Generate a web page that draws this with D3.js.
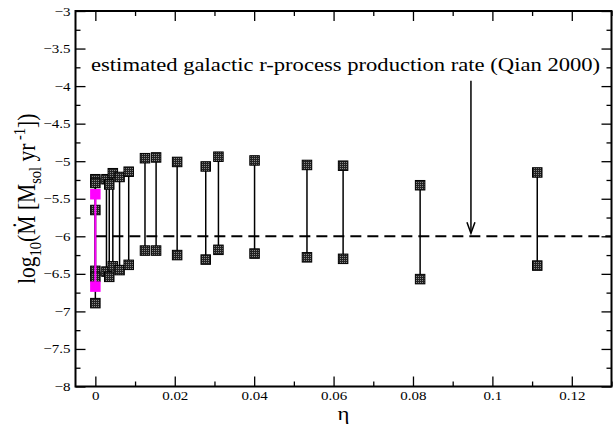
<!DOCTYPE html>
<html>
<head>
<meta charset="utf-8">
<script src="https://cdn.jsdelivr.net/npm/d3@7"></script>
<style>
  body { margin: 0; background: #fff; }
  text { font-family: "Liberation Serif", "Times New Roman", serif; }
</style>
</head>
<body>
<div id="chart"></div>
<script>
// chart values
const eta = [0, 0, 0, 0.0028, 0.0035, 0.0044, 0.0061, 0.0084, 0.0125, 0.0153,
             0.0206, 0.0278, 0.031, 0.0401, 0.0533, 0.0624, 0.0818, 0.1113];
const upper = [-5.24, -5.29, -5.65, -5.24, -5.31, -5.16, -5.21, -5.14, -4.96, -4.95,
               -5.01, -5.07, -4.94, -4.99, -5.05, -5.06, -5.32, -5.15];
const lower = [-6.46, -6.54, -6.89, -6.47, -6.54, -6.40, -6.45, -6.38, -6.19, -6.19,
               -6.25, -6.31, -6.18, -6.23, -6.28, -6.30, -6.57, -6.39];
const magentaEta = [0];
const magentaUpper = [-5.44];
const magentaLower = [-6.67];
const qianRate = -6;
const arrowEta = 0.0946;
const arrowTop = -3.93;
const xTicks = [0, 0.02, 0.04, 0.06, 0.08, 0.1, 0.12];
const yTicks = [-8, -7.5, -7, -6.5, -6, -5.5, -5, -4.5, -4, -3.5, -3];

const width = 613;
const height = 424;
const margin = {top: 11, right: 1.5, bottom: 37.5, left: 75.5};
const stretch = 1.2; // the original figure's lettering is wide
const serif = '"Liberation Serif", "Times New Roman", serif';

const svg = d3.select('#chart').append('svg')
    .attr('width', width)
    .attr('height', height);

// texture for the dark square markers
const defs = svg.append('defs');
const pat = defs.append('pattern')
    .attr('id', 'tex')
    .attr('width', 2).attr('height', 2)
    .attr('patternUnits', 'userSpaceOnUse');
pat.append('rect').attr('width', 2).attr('height', 2).attr('fill', '#222');
pat.append('rect').attr('width', 1).attr('height', 1).attr('fill', '#8a8a8a');

const x = d3.scaleLinear().domain([-0.005, 0.13]).range([margin.left, width - margin.right]);
const y = d3.scaleLinear().domain([-8, -3]).range([height - margin.bottom, margin.top]);

const majLen = 10, minLen = 5;
const xMinor = d3.range(0, 0.1301, 0.01).filter(v => !xTicks.some(t => Math.abs(t - v) < 1e-9));
const yMinor = d3.range(-8, -2.99, 0.25).filter(v => !yTicks.some(t => Math.abs(t - v) < 1e-9));

function serifLabels(g) {
    g.attr('font-family', serif);
    g.select('.domain').remove();
}

// bottom axis
svg.append('g')
    .attr('transform', `translate(0,${y(-8)})`)
    .call(d3.axisBottom(x).tickValues(xTicks).tickSizeInner(-majLen).tickSizeOuter(0)
        .tickPadding(5).tickFormat(d3.format('~g')))
    .call(serifLabels)
    .call(g => g.selectAll('text')
        .attr('font-size', 12.5).attr('fill', '#000')
        .attr('transform', `scale(${stretch},1)`));
svg.append('g')
    .attr('transform', `translate(0,${y(-8)})`)
    .call(d3.axisBottom(x).tickValues(xMinor).tickSize(-minLen).tickFormat(''))
    .call(serifLabels);

// top axis
svg.append('g')
    .attr('transform', `translate(0,${y(-3)})`)
    .call(d3.axisTop(x).tickValues(xTicks).tickSize(-majLen).tickFormat(''))
    .call(serifLabels);
svg.append('g')
    .attr('transform', `translate(0,${y(-3)})`)
    .call(d3.axisTop(x).tickValues(xMinor).tickSize(-minLen).tickFormat(''))
    .call(serifLabels);

// left axis
svg.append('g')
    .attr('transform', `translate(${x(-0.005)},0)`)
    .call(d3.axisLeft(y).tickValues(yTicks).tickSizeInner(-majLen).tickSizeOuter(0)
        .tickPadding(5).tickFormat(d3.format('~g')))
    .call(serifLabels)
    .call(g => g.selectAll('text')
        .attr('font-size', 12.5).attr('fill', '#000')
        .attr('x', -5 / stretch)
        .attr('transform', `scale(${stretch},1)`));
svg.append('g')
    .attr('transform', `translate(${x(-0.005)},0)`)
    .call(d3.axisLeft(y).tickValues(yMinor).tickSize(-minLen).tickFormat(''))
    .call(serifLabels);

// right axis
svg.append('g')
    .attr('transform', `translate(${x(0.13)},0)`)
    .call(d3.axisRight(y).tickValues(yTicks).tickSize(-majLen).tickFormat(''))
    .call(serifLabels);
svg.append('g')
    .attr('transform', `translate(${x(0.13)},0)`)
    .call(d3.axisRight(y).tickValues(yMinor).tickSize(-minLen).tickFormat(''))
    .call(serifLabels);

svg.selectAll('.tick line').attr('stroke', '#000').attr('stroke-width', 1.3);

// frame
svg.append('rect')
    .attr('x', x(-0.005)).attr('y', y(-3))
    .attr('width', x(0.13) - x(-0.005))
    .attr('height', y(-8) - y(-3))
    .attr('fill', 'none').attr('stroke', '#000').attr('stroke-width', 2);

// dashed reference line
svg.append('line')
    .attr('x1', x(0)).attr('x2', x(0.13))
    .attr('y1', y(qianRate)).attr('y2', y(qianRate))
    .attr('stroke', '#000').attr('stroke-width', 2)
    .attr('stroke-dasharray', '11,6');

// vertical ranges
const rows = eta.map((e, i) => ({e, hi: upper[i], lo: lower[i]}));
svg.append('g').selectAll('line')
    .data(rows)
    .join('line')
    .attr('x1', d => x(d.e)).attr('x2', d => x(d.e))
    .attr('y1', d => y(d.hi)).attr('y2', d => y(d.lo))
    .attr('stroke', '#000').attr('stroke-width', 1.5);

const pts = rows.flatMap(d => [{e: d.e, v: d.hi}, {e: d.e, v: d.lo}]);
const sq = 9.5;
svg.append('g').selectAll('rect')
    .data(pts)
    .join('rect')
    .attr('x', d => x(d.e) - sq / 2).attr('y', d => y(d.v) - sq / 2)
    .attr('width', sq).attr('height', sq)
    .attr('fill', 'url(#tex)')
    .attr('stroke', '#000').attr('stroke-width', 1);

// magenta series
const mRows = magentaEta.map((e, i) => ({e, hi: magentaUpper[i], lo: magentaLower[i]}));
svg.append('g').selectAll('line')
    .data(mRows)
    .join('line')
    .attr('x1', d => x(d.e)).attr('x2', d => x(d.e))
    .attr('y1', d => y(d.hi)).attr('y2', d => y(d.lo))
    .attr('stroke', '#ff00ff').attr('stroke-width', 2);
const msq = 10.5;
svg.append('g').selectAll('rect')
    .data(mRows.flatMap(d => [{e: d.e, v: d.hi}, {e: d.e, v: d.lo}]))
    .join('rect')
    .attr('x', d => x(d.e) - msq / 2).attr('y', d => y(d.v) - msq / 2)
    .attr('width', msq).attr('height', msq)
    .attr('fill', '#ff00ff');

// annotation arrow
const ax = x(arrowEta);
const tipY = y(qianRate) - 3;
svg.append('line')
    .attr('x1', ax).attr('x2', ax)
    .attr('y1', y(arrowTop)).attr('y2', tipY)
    .attr('stroke', '#000').attr('stroke-width', 1.5);
svg.append('path')
    .attr('d', `M${ax - 4},${tipY - 11}L${ax},${tipY}L${ax + 4},${tipY - 11}`)
    .attr('fill', 'none').attr('stroke', '#000').attr('stroke-width', 1.5);

svg.append('text')
    .attr('transform', `translate(91,71) scale(1.19,1)`)
    .attr('font-family', serif)
    .attr('font-size', 19)
    .text('estimated galactic r-process production rate (Qian 2000)');

// axis titles
svg.append('text')
    .attr('transform', `translate(${(x(-0.005) + x(0.13)) / 2},420) scale(${stretch},1)`)
    .attr('text-anchor', 'middle')
    .attr('font-family', serif)
    .attr('font-size', 19)
    .text('η');

const yl = svg.append('text')
    .attr('transform', `translate(35,${(y(-3) + y(-8)) / 2}) scale(${stretch},1) rotate(-90)`)
    .attr('text-anchor', 'middle')
    .attr('font-family', serif)
    .attr('font-size', 21.5);
yl.append('tspan').text('log');
yl.append('tspan').attr('dy', 5).attr('font-size', 14.5).text('10');
yl.append('tspan').attr('dy', -5).text('(M');
yl.append('tspan').attr('dx', -13).attr('dy', -4).text('\u02D9');
yl.append('tspan').attr('dx', 6).attr('dy', 4).text(' [M');
yl.append('tspan').attr('dy', 5).attr('font-size', 14.5).text('sol');
yl.append('tspan').attr('dy', -5).text(' yr');
yl.append('tspan').attr('dy', -8).attr('font-size', 14.5).text(' -1');
yl.append('tspan').attr('dy', 8).text('])');
</script>
</body>
</html>
